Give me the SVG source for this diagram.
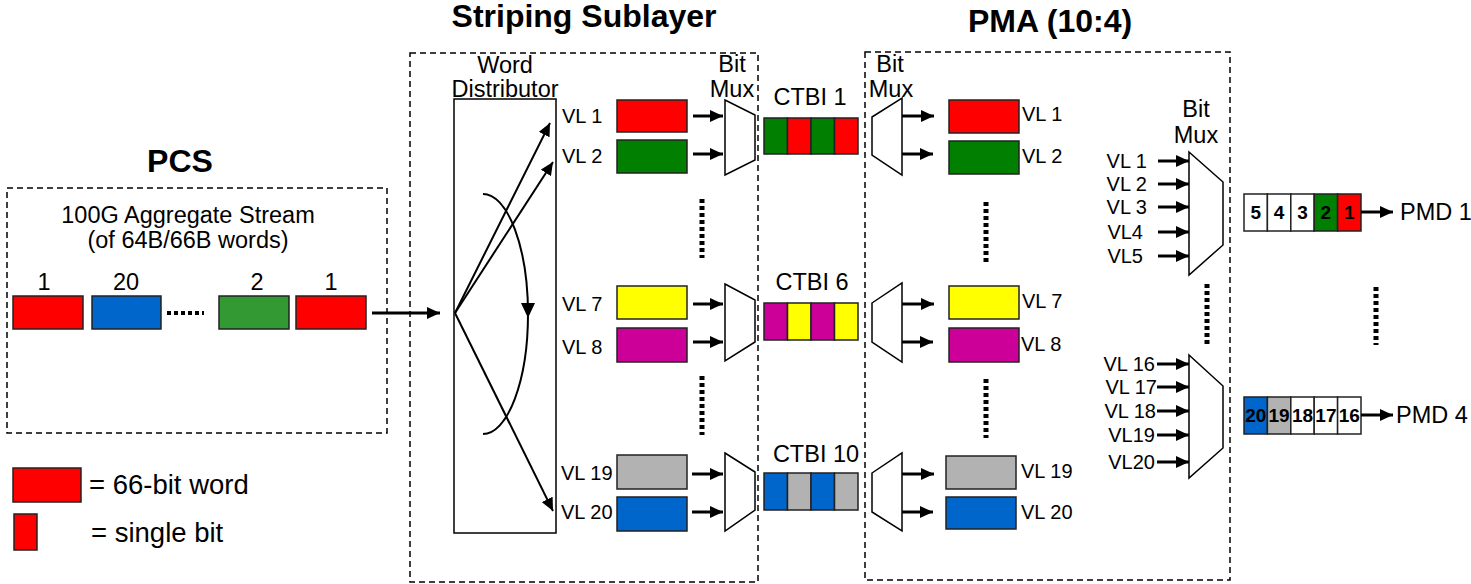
<svg xmlns="http://www.w3.org/2000/svg" width="1471" height="584" viewBox="0 0 1471 584">
<style>
text{font-family:"Liberation Sans",Arial,sans-serif;fill:#000}
.t{font-size:32px;font-weight:bold;text-anchor:middle}
.m{font-size:23.5px;text-anchor:middle}
.vl{font-size:20px}
.ct{font-size:23.5px;text-anchor:middle}
.num{font-size:19px;font-weight:bold;text-anchor:middle}
.dash{fill:none;stroke:#000;stroke-width:1.5;stroke-dasharray:6,4}
.blk{stroke:#222;stroke-width:1.5}
.mux{fill:#fff;stroke:#000;stroke-width:1.5}
.ar{stroke:#000;stroke-width:3;fill:none;marker-end:url(#ah)}
.thin{stroke:#000;stroke-width:2;fill:none}
.dots{stroke:#000;stroke-width:5;stroke-dasharray:4,3;fill:none}
.r{fill:#FF0000}.g{fill:#007F00}.g2{fill:#339933}.b{fill:#0066CC}.y{fill:#FFFF00}.p{fill:#CC0099}.s{fill:#B2B2B2}.w{fill:#fff}
</style>
<defs>
<marker id="ah" markerUnits="userSpaceOnUse" markerWidth="13" markerHeight="12" refX="13" refY="6" orient="auto"><path d="M0,0 L13,6 L0,12 z" fill="#000"/></marker>
</defs>

<g id="pcs">
<text class="t" x="180" y="172">PCS</text>
<rect class="dash" x="7" y="188" width="380" height="245"/>
<text class="m" x="188" y="223">100G Aggregate Stream</text>
<text class="m" x="188" y="248">(of 64B/66B words)</text>
<text class="m" x="44" y="290">1</text>
<text class="m" x="126" y="290">20</text>
<text class="m" x="257" y="290">2</text>
<text class="m" x="331" y="290">1</text>
<rect class="blk r" x="13" y="296" width="70" height="33"/>
<rect class="blk b" x="92" y="296" width="69" height="33"/>
<rect class="blk g2" x="219" y="296" width="70" height="33"/>
<rect class="blk r" x="296" y="296" width="70" height="33"/>
<line x1="167" y1="313" x2="204" y2="313" stroke="#000" stroke-width="4" stroke-dasharray="4,3"/>
</g>

<g id="legend">
<rect class="blk r" x="13" y="468" width="68" height="34"/>
<text x="89" y="494" style="font-size:27.5px">= 66-bit word</text>
<rect class="blk r" x="14" y="514" width="23" height="36"/>
<text x="91" y="542" style="font-size:27.5px">= single bit</text>
</g>

<g id="striping">
<text class="t" x="584" y="27">Striping Sublayer</text>
<rect class="dash" x="410" y="53" width="348" height="529"/>
</g>

<g id="word-distributor">
<text class="m" x="505" y="73">Word</text>
<text class="m" x="505" y="97">Distributor</text>
<rect x="454" y="99" width="102" height="434" fill="none" stroke="#000" stroke-width="1.5"/>
</g>

<g id="striping-lanes">
<text class="vl" x="562" y="123">VL 1</text>
<text class="vl" x="562" y="163">VL 2</text>
<text class="vl" x="562" y="311">VL 7</text>
<text class="vl" x="562" y="354">VL 8</text>
<text class="vl" x="561" y="480">VL 19</text>
<text class="vl" x="561" y="519">VL 20</text>
<rect class="blk r" x="617" y="100" width="70" height="32"/>
<rect class="blk g" x="617" y="140" width="70" height="33"/>
<rect class="blk y" x="617" y="286" width="70" height="33"/>
<rect class="blk p" x="617" y="328" width="70" height="34"/>
<rect class="blk s" x="617" y="455" width="70" height="34"/>
<rect class="blk b" x="617" y="497" width="70" height="34"/>
<line class="dots" x1="702" y1="199" x2="702" y2="258"/>
<line class="dots" x1="702" y1="376" x2="702" y2="435"/>
</g>

<g id="striping-mux">
<text class="m" x="732" y="72">Bit</text>
<text class="m" x="732" y="97">Mux</text>
<polygon class="mux" points="725,100 755,115 755,160 725,175"/>
<polygon class="mux" points="725,284 755,300 755,342 725,361"/>
<polygon class="mux" points="725,453 755,472 755,510 725,531"/>
</g>

<g id="ctbi">
<text class="ct" x="810" y="105">CTBI 1</text>
<rect class="blk g" x="764" y="118" width="23.5" height="36"/>
<rect class="blk r" x="787.5" y="118" width="23.5" height="36"/>
<rect class="blk g" x="811" y="118" width="23.5" height="36"/>
<rect class="blk r" x="834.5" y="118" width="23.5" height="36"/>
<text class="ct" x="812" y="290">CTBI 6</text>
<rect class="blk p" x="764" y="303" width="23.5" height="37"/>
<rect class="blk y" x="787.5" y="303" width="23.5" height="37"/>
<rect class="blk p" x="811" y="303" width="23.5" height="37"/>
<rect class="blk y" x="834.5" y="303" width="23.5" height="37"/>
<text class="ct" x="816" y="462">CTBI 10</text>
<rect class="blk b" x="764" y="473" width="23.5" height="37"/>
<rect class="blk s" x="787.5" y="473" width="23.5" height="37"/>
<rect class="blk b" x="811" y="473" width="23.5" height="37"/>
<rect class="blk s" x="834.5" y="473" width="23.5" height="37"/>
</g>

<g id="pma">
<text class="t" x="1050" y="32">PMA (10:4)</text>
<rect class="dash" x="865" y="52" width="365" height="528"/>
</g>

<g id="pma-demux">
<text class="m" x="890" y="72">Bit</text>
<text class="m" x="891" y="97">Mux</text>
<polygon class="mux" points="872,117 902,98 902,175 872,155"/>
<polygon class="mux" points="872,303 902,283 902,362 872,342"/>
<polygon class="mux" points="872,473 902,453 902,531 872,512"/>
</g>

<g id="pma-lanes">
<rect class="blk r" x="949" y="100" width="70" height="33"/>
<rect class="blk g" x="949" y="141" width="70" height="33"/>
<rect class="blk y" x="949" y="286" width="70" height="33"/>
<rect class="blk p" x="949" y="328" width="70" height="34"/>
<rect class="blk s" x="946" y="456" width="70" height="33"/>
<rect class="blk b" x="946" y="497" width="70" height="32"/>
<text class="vl" x="1022" y="121">VL 1</text>
<text class="vl" x="1022" y="163">VL 2</text>
<text class="vl" x="1022" y="308">VL 7</text>
<text class="vl" x="1021" y="351">VL 8</text>
<text class="vl" x="1021" y="478">VL 19</text>
<text class="vl" x="1021" y="519">VL 20</text>
<line class="dots" x1="986" y1="202" x2="986" y2="262"/>
<line class="dots" x1="986" y1="379" x2="986" y2="438"/>
</g>

<g id="pmd-mux-1">
<text class="m" x="1196" y="117">Bit</text>
<text class="m" x="1196" y="143">Mux</text>
<polygon class="mux" points="1189,152 1223,182 1223,245 1189,275"/>
<g class="vl" text-anchor="end">
<text x="1147" y="168">VL 1</text>
<text x="1147" y="191">VL 2</text>
<text x="1147" y="214">VL 3</text>
<text x="1143" y="239">VL4</text>
<text x="1143" y="263">VL5</text>
</g>
</g>

<g id="pmd-mux-4">
<polygon class="mux" points="1189,355 1223,386 1223,448 1189,478"/>
<g class="vl" text-anchor="end">
<text x="1155" y="371">VL 16</text>
<text x="1157" y="394">VL 17</text>
<text x="1156" y="418">VL 18</text>
<text x="1155" y="442">VL19</text>
<text x="1155" y="469">VL20</text>
</g>
<line class="dots" x1="1207" y1="284" x2="1207" y2="344"/>
</g>

<g id="pmd1">
<rect class="blk w" x="1244" y="194" width="23.4" height="37"/>
<rect class="blk w" x="1267.4" y="194" width="23.4" height="37"/>
<rect class="blk w" x="1290.8" y="194" width="23.4" height="37"/>
<rect class="blk g" x="1314.2" y="194" width="23.4" height="37"/>
<rect class="blk r" x="1337.6" y="194" width="23.4" height="37"/>
<text class="num" x="1255.7" y="219">5</text>
<text class="num" x="1279.1" y="219">4</text>
<text class="num" x="1302.5" y="219">3</text>
<text class="num" x="1325.9" y="219">2</text>
<text class="num" x="1349.3" y="219">1</text>
<text x="1400" y="220" style="font-size:23.5px">PMD 1</text>
</g>

<g id="pmd4">
<rect class="blk b" x="1244" y="397" width="23.4" height="37"/>
<rect class="blk s" x="1267.4" y="397" width="23.4" height="37"/>
<rect class="blk w" x="1290.8" y="397" width="23.4" height="37"/>
<rect class="blk w" x="1314.2" y="397" width="23.4" height="37"/>
<rect class="blk w" x="1337.6" y="397" width="23.4" height="37"/>
<text class="num" x="1255.7" y="422">20</text>
<text class="num" x="1279.1" y="422">19</text>
<text class="num" x="1302.5" y="422">18</text>
<text class="num" x="1325.9" y="422">17</text>
<text class="num" x="1349.3" y="422">16</text>
<text x="1396" y="423" style="font-size:23.5px">PMD 4</text>
<line class="dots" x1="1376" y1="287" x2="1376" y2="345"/>
</g>

<g id="connectors">
<line class="ar" x1="372" y1="313" x2="440" y2="313"/>
<line class="thin" x1="455" y1="313" x2="550" y2="123" marker-end="url(#ah)"/>
<line class="thin" x1="455" y1="313" x2="553" y2="162" marker-end="url(#ah)"/>
<line class="thin" x1="455" y1="313" x2="553" y2="511" marker-end="url(#ah)"/>
<path class="thin" d="M483,194 A45,120 0 0 1 483,434"/>
<path d="M521,303 L535,303 L528,318 z" fill="#000"/>
<line class="ar" x1="693" y1="116" x2="723" y2="116"/>
<line class="ar" x1="693" y1="154" x2="723" y2="154"/>
<line class="ar" x1="693" y1="304" x2="723" y2="304"/>
<line class="ar" x1="693" y1="342" x2="723" y2="342"/>
<line class="ar" x1="692" y1="474" x2="723" y2="474"/>
<line class="ar" x1="692" y1="512" x2="723" y2="512"/>
<line class="ar" x1="902" y1="116" x2="934" y2="116"/>
<line class="ar" x1="902" y1="154" x2="933" y2="154"/>
<line class="ar" x1="902" y1="304" x2="934" y2="304"/>
<line class="ar" x1="902" y1="342" x2="933" y2="342"/>
<line class="ar" x1="902" y1="474" x2="934" y2="474"/>
<line class="ar" x1="902" y1="512" x2="933" y2="512"/>
<line class="ar" x1="1158" y1="161" x2="1189" y2="161"/>
<line class="ar" x1="1158" y1="184" x2="1189" y2="184"/>
<line class="ar" x1="1158" y1="207" x2="1189" y2="207"/>
<line class="ar" x1="1158" y1="232" x2="1189" y2="232"/>
<line class="ar" x1="1158" y1="256" x2="1189" y2="256"/>
<line class="ar" x1="1157" y1="364" x2="1189" y2="364"/>
<line class="ar" x1="1157" y1="387" x2="1189" y2="387"/>
<line class="ar" x1="1157" y1="411" x2="1189" y2="411"/>
<line class="ar" x1="1157" y1="435" x2="1189" y2="435"/>
<line class="ar" x1="1157" y1="462" x2="1189" y2="462"/>
<line class="ar" x1="1361" y1="212" x2="1393" y2="212"/>
<line class="ar" x1="1361" y1="415" x2="1393" y2="415"/>
</g>
</svg>
